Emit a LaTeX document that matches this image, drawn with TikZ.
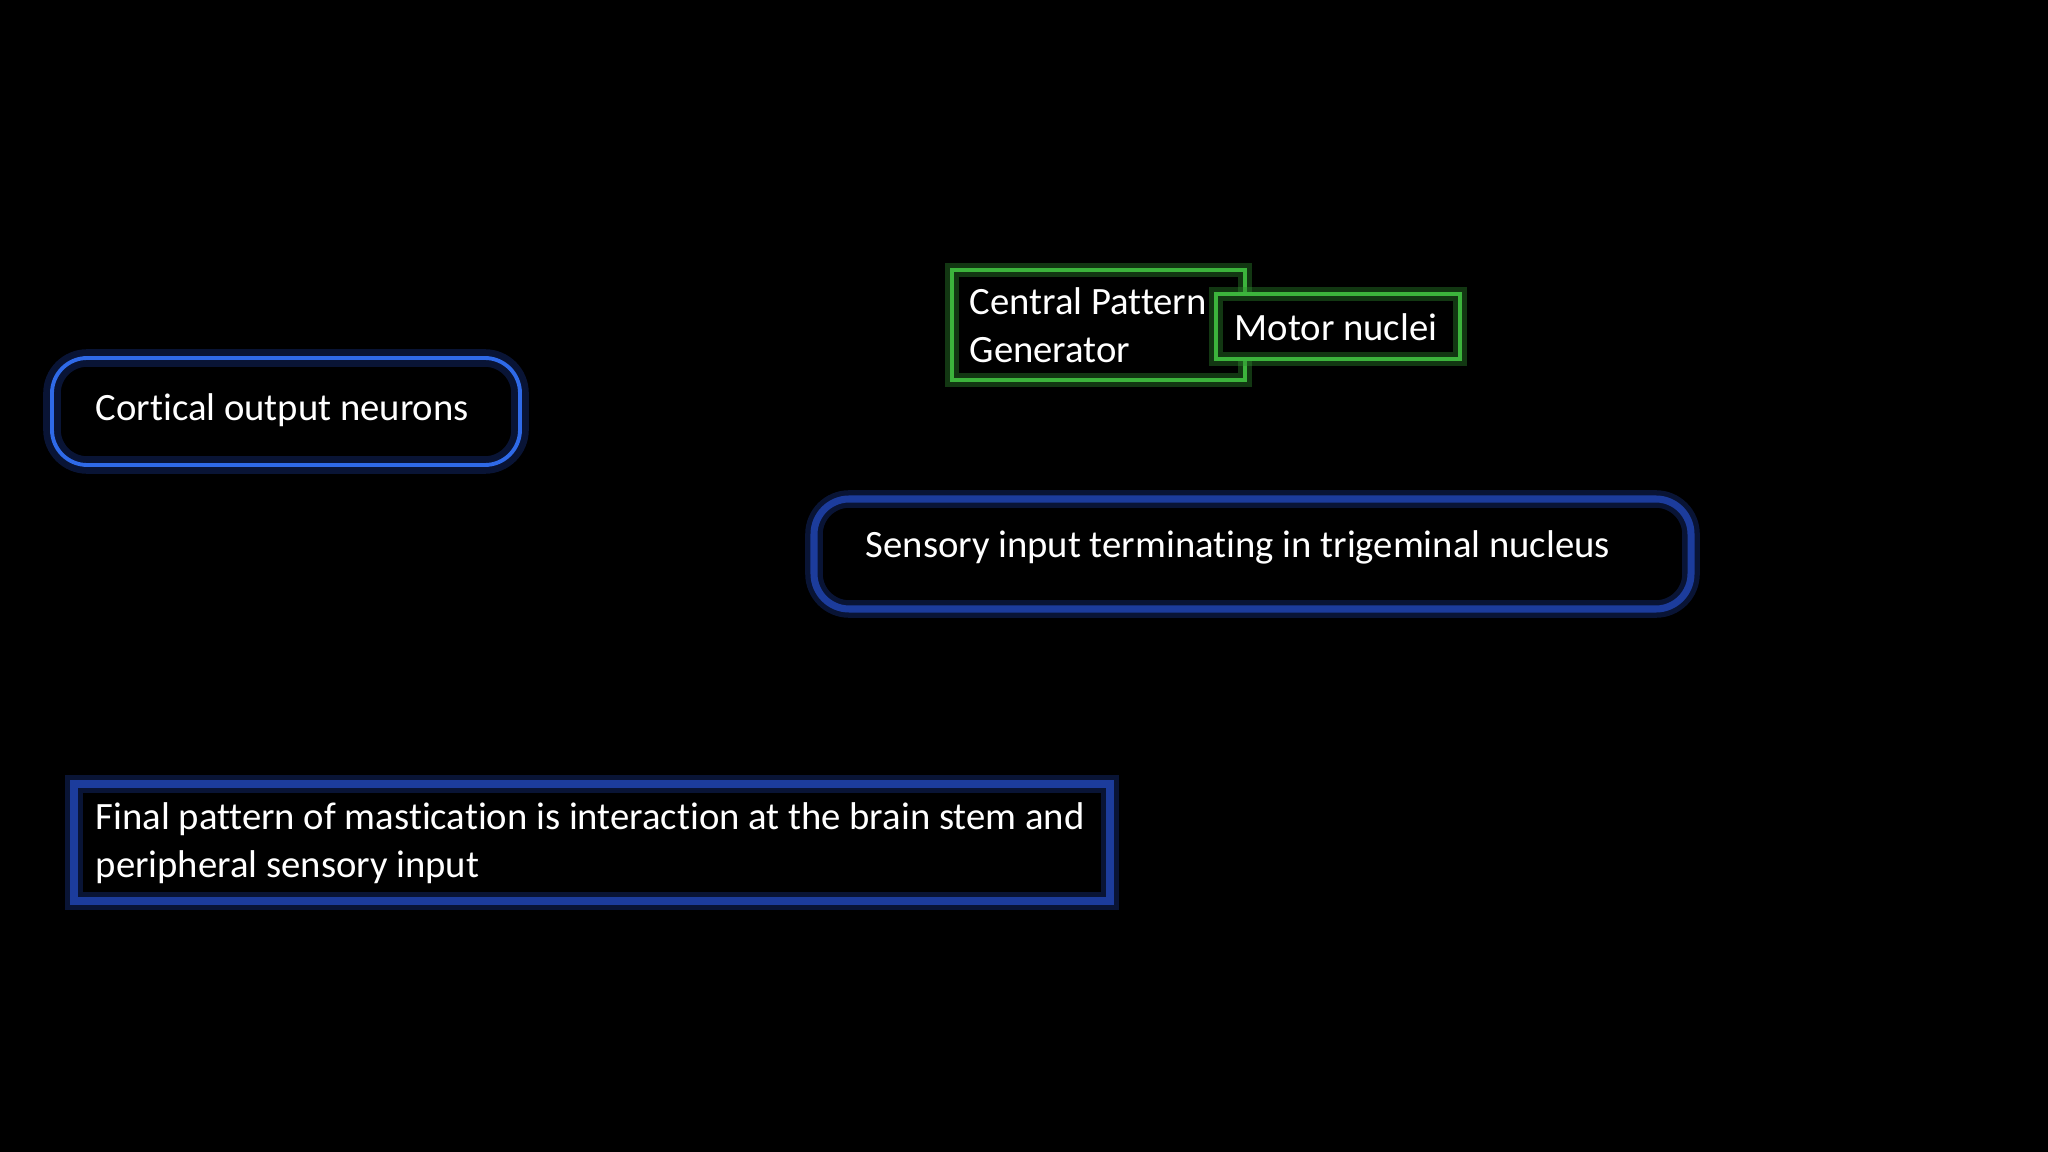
\documentclass[tikz,border=0pt]{standalone}
\usepackage{fontspec}
\setmainfont{Carlito}[Ligatures={NoCommon,NoContextual}]
\definecolor{bglowc}{HTML}{1A3A9A}
\definecolor{blinec}{HTML}{2F6AE8}
\definecolor{bdark}{HTML}{1C3C9C}
\definecolor{gglowc}{HTML}{2E8B2E}
\definecolor{glinec}{HTML}{3CB43C}
\begin{document}
\begin{tikzpicture}[x=0.01cm,y=-0.01cm,
  txt/.style={text=white,font=\fontsize{11}{13.5}\selectfont,align=left,anchor=west,inner sep=0pt},
  bglow/.style={draw=bglowc,line width=5pt,draw opacity=0.35},
  bline/.style={draw=blinec,line width=1.1pt},
  gglow/.style={draw=gglowc,line width=4pt,draw opacity=0.4},
  gline/.style={draw=glinec,line width=1pt}]
\fill[black] (0,0) rectangle (2048,1152);
\useasboundingbox (0,0) rectangle (2048,1152);
% Cortical
\draw[bglow,rounded corners=10] (52,358) rectangle (520,465);
\draw[bline,rounded corners=10] (52,358) rectangle (520,465);
\node[txt] (cort) at (95,410) {Cortical output neurons};
% Sensory
\draw[bglow,rounded corners=10] (814,499) rectangle (1691,609);
\draw[bline,draw=bdark,line width=2pt,rounded corners=10] (814,499) rectangle (1691,609);
\node[txt] (sens) at (865,547) {Sensory input terminating in trigeminal nucleus};
% Final
\draw[bglow] (74,784) rectangle (1110,901);
\draw[bline,draw=bdark,line width=2.5pt] (74,784) rectangle (1110,901);
\node[txt] (fin) at (95,843) {Final pattern of mastication is interaction at the brain stem and\\peripheral sensory input};
% CPG
\draw[gglow] (952,270) rectangle (1245,380);
\draw[gline] (952,270) rectangle (1245,380);
\node[txt] (cpg) at (969,325) {Central Pattern\\Generator};
% Motor
\fill[black] (1216,294) rectangle (1460,359);
\draw[gglow] (1216,294) rectangle (1460,359);
\draw[gline] (1216,294) rectangle (1460,359);
\node[txt] (mot) at (1234,327) {Motor nuclei};
\end{tikzpicture}
\end{document}
